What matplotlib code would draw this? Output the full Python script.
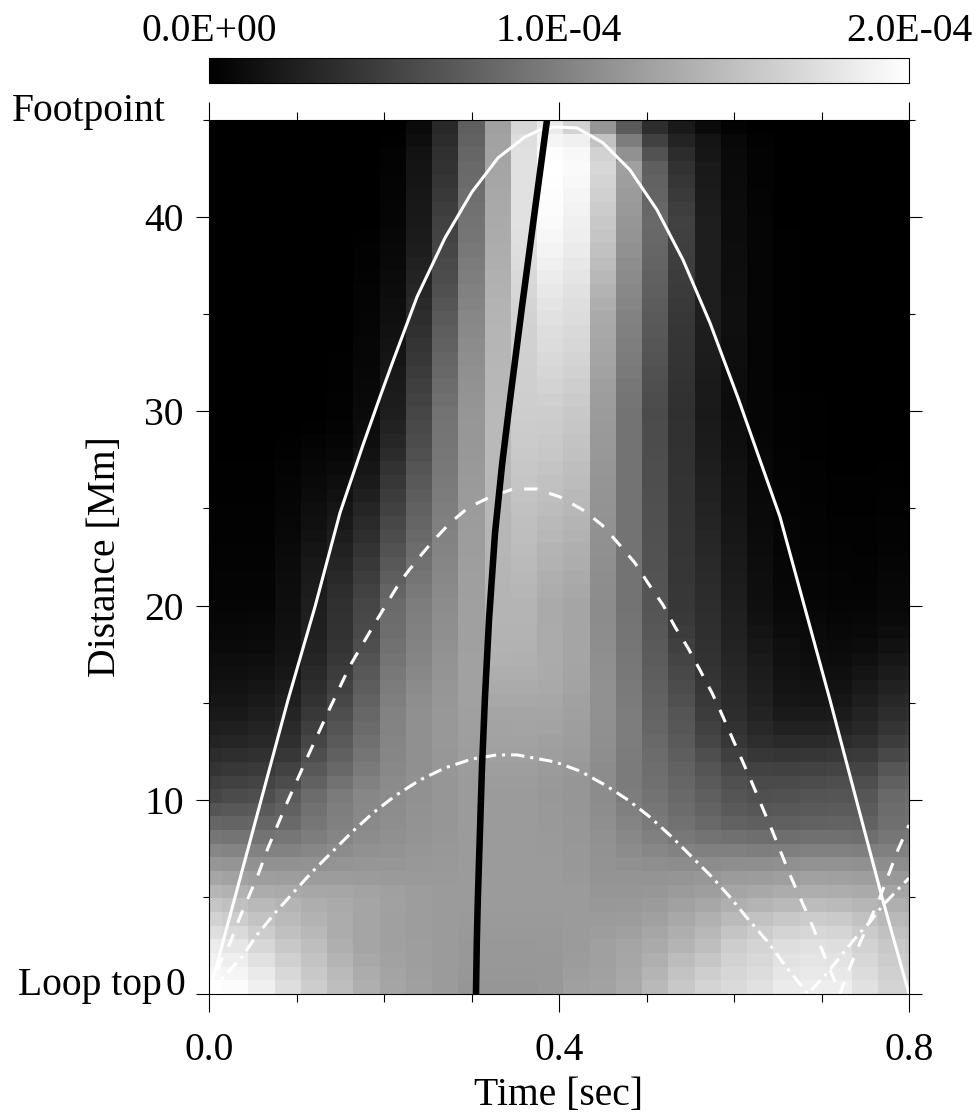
import numpy as np
from matplotlib import pyplot as plt
from matplotlib.ticker import FixedLocator, MultipleLocator

plt.rcParams['font.family'] = ['Liberation Serif', 'DejaVu Serif']
plt.rcParams['font.size'] = 28.5

levels = [
  [255,252,240,222,205,190,175,165,160,155,150,150,150,152,160,162,170,185,200,212,218,225,235,238,238,225,212,210],
  [248,245,234,216,200,186,172,164,159,155,151,151,151,152,158,161,168,180,195,206,214,220,230,233,232,220,208,205],
  [242,238,225,208,195,180,168,162,158,155,152,152,152,152,156,160,166,175,188,198,210,216,226,229,227,215,204,200],
  [235,230,215,200,190,175,165,160,158,155,152,152,152,153,155,160,165,170,180,190,205,212,222,225,222,210,200,195],
  [222,218,205,192,184,172,165,160,157,155,153,153,153,153,155,157,160,166,174,184,196,204,212,215,213,203,193,190],
  [210,205,195,186,178,172,165,160,157,155,154,154,154,154,155,155,156,160,168,176,186,194,200,204,202,194,185,182],
  [197,192,185,180,174,170,165,161,157,155,155,155,155,155,155,152,153,155,161,167,175,180,185,188,186,182,175,172],
  [182,178,172,170,167,166,163,160,157,155,155,155,155,155,155,150,150,151,155,158,165,168,172,174,173,170,165,165],
  [166,162,158,157,156,156,155,154,154,154,155,155,155,155,153,148,148,148,149,151,155,156,159,161,160,158,153,153],
  [150,148,145,145,146,148,150,150,152,153,155,155,155,155,152,147,144,142,140,140,142,142,144,146,146,144,141,141],
  [135,132,130,130,135,140,145,147,150,152,155,155,155,154,152,146,140,135,130,128,128,126,127,129,129,127,128,130],
  [118,116,115,118,125,133,140,144,148,151,155,155,155,154,151,145,136,128,120,115,112,110,110,112,112,110,118,120],
  [102,100,102,105,118,128,137,142,147,150,155,155,155,153,151,143,132,122,113,105,98,95,96,98,99,98,111,114],
  [85,88,90,97,113,126,136,141,146,150,155,155,155,153,150,141,128,118,108,99,90,87,88,90,91,91,108,112],
  [70,75,78,90,108,123,135,140,145,150,155,155,155,152,150,140,125,115,105,95,85,80,81,84,85,86,105,110],
  [62,65,68,76,97,114,129,139,145,150,155,156,156,153,150,140,123,112,102,90,80,74,74,76,78,78,96,100],
  [52,55,58,66,88,104,122,136,144,151,156,158,158,155,152,140,123,110,98,85,72,66,65,66,68,68,86,90],
  [44,46,48,55,78,96,117,134,144,151,157,160,160,158,155,142,124,108,94,78,63,55,53,54,56,58,72,76],
  [36,37,40,47,70,90,112,133,144,152,158,162,162,160,157,143,125,105,90,70,55,46,42,42,44,48,60,64],
  [30,31,35,42,63,84,107,131,144,152,159,163,164,163,158,144,125,102,87,65,50,40,33,33,34,40,52,56],
  [25,25,30,36,56,78,103,130,144,152,160,165,165,165,160,145,125,100,85,60,45,35,26,26,27,35,45,48],
  [21,21,25,31,50,71,98,127,142,151,161,168,168,167,161,145,123,98,80,57,43,32,22,21,22,30,39,42],
  [18,18,21,27,45,65,93,124,139,150,161,171,171,169,163,145,122,96,76,54,41,30,20,18,18,25,33,36],
  [15,15,17,23,41,60,88,120,136,148,161,174,174,170,164,144,120,94,72,52,39,28,18,15,15,20,27,30],
  [13,13,14,20,37,55,83,116,133,147,161,177,176,171,165,143,119,92,68,50,37,26,16,13,12,16,22,24],
  [10,10,11,18,34,52,78,113,131,145,160,178,178,171,165,142,118,90,64,49,35,23,15,11,10,12,17,19],
  [8,8,9,16,32,50,74,110,129,143,160,179,179,171,165,141,117,88,60,47,33,20,12,10,8,9,13,14],
  [6,6,7,15,31,49,72,108,127,142,160,180,180,170,165,140,116,86,57,46,32,17,10,8,6,7,10,10],
  [5,5,5,14,30,48,70,106,125,140,160,180,180,170,165,140,115,85,55,45,30,15,8,6,5,5,8,8],
  [4,4,4,13,28,45,66,100,121,138,159,180,182,173,168,141,115,84,55,44,29,14,7,5,4,4,7,7],
  [4,4,4,12,26,41,61,94,117,136,159,181,184,175,170,142,115,83,54,42,27,14,6,5,4,3,6,6],
  [3,3,3,11,24,37,56,88,113,134,158,181,186,178,173,143,115,82,54,41,26,13,6,4,3,3,5,5],
  [3,3,3,10,21,33,51,82,109,132,157,182,188,180,175,144,115,82,53,39,25,12,5,4,3,2,4,4],
  [2,2,2,8,18,29,46,76,105,130,157,182,190,183,178,145,115,81,53,38,23,11,5,3,2,2,3,3],
  [2,2,2,7,16,25,42,71,101,128,156,183,191,185,180,146,115,80,52,36,22,10,5,3,2,2,3,3],
  [2,2,2,6,14,21,37,65,97,126,155,183,193,188,183,147,115,80,52,35,20,10,4,3,1,1,2,2],
  [1,1,1,5,11,17,31,60,93,124,155,184,195,191,185,148,115,79,51,33,19,9,4,2,1,1,2,2],
  [1,1,1,4,9,14,26,55,89,122,154,184,197,193,188,149,115,78,51,32,18,8,3,2,1,1,1,1],
  [1,1,1,3,7,10,22,50,85,120,153,185,199,196,190,150,115,78,50,30,17,8,3,2,0,0,1,1],
  [0,0,0,2,5,7,18,43,80,119,152,185,201,199,193,152,115,77,50,28,15,7,3,1,0,0,0,0],
  [0,0,0,1,3,5,14,38,76,117,151,185,203,201,195,153,115,76,49,27,14,6,2,1,0,0,0,0],
  [0,0,0,0,1,3,12,34,73,116,151,185,204,203,198,154,115,76,49,26,13,5,2,1,0,0,0,0],
  [0,0,0,0,0,2,10,30,70,115,150,185,205,205,200,155,115,75,48,25,12,5,2,1,0,0,0,0],
  [0,0,0,0,0,2,9,28,66,111,148,184,206,208,203,157,117,77,49,26,12,5,2,1,0,0,0,0],
  [0,0,0,0,0,1,8,26,63,108,146,183,207,211,206,159,119,79,50,26,13,5,1,0,0,0,0,0],
  [0,0,0,0,0,1,7,24,59,104,144,183,207,214,209,162,122,81,51,27,13,5,1,0,0,0,0,0],
  [0,0,0,0,0,1,6,21,55,101,142,182,208,217,212,164,124,84,52,28,14,5,1,0,0,0,0,0],
  [0,0,0,0,0,0,6,19,52,97,140,181,209,220,215,166,126,86,53,29,14,5,1,0,0,0,0,0],
  [0,0,0,0,0,0,5,17,48,94,137,181,209,222,217,168,128,88,54,29,15,5,1,0,0,0,0,0],
  [0,0,0,0,0,0,5,15,45,90,135,180,210,225,220,170,130,90,55,30,15,5,1,0,0,0,0,0],
  [0,0,0,0,0,0,4,14,42,85,132,179,212,228,222,174,133,92,57,30,15,5,1,0,0,0,0,0],
  [0,0,0,0,0,0,4,12,38,80,129,177,215,232,225,179,136,95,59,30,14,5,1,0,0,0,0,0],
  [0,0,0,0,0,0,3,11,35,76,126,176,217,236,229,184,139,97,60,30,14,5,1,0,0,0,0,0],
  [0,0,0,0,0,0,2,9,32,73,123,174,220,240,232,189,142,100,62,30,13,5,1,0,0,0,0,0],
  [0,0,0,0,0,0,2,8,29,70,120,173,222,244,235,193,145,102,63,30,13,5,1,0,0,0,0,0],
  [0,0,0,0,0,0,1,7,27,67,117,171,224,247,238,197,148,104,64,30,12,5,1,0,0,0,0,0],
  [0,0,0,0,0,0,0,5,25,65,115,170,225,250,240,200,150,105,65,30,12,5,0,0,0,0,0,0],
  [0,0,0,0,0,0,0,5,24,61,113,169,225,252,243,204,153,103,62,28,12,4,0,0,0,0,0,0],
  [0,0,0,0,0,0,0,4,23,57,110,168,225,253,245,208,155,100,58,27,11,4,0,0,0,0,0,0],
  [0,0,0,0,0,0,0,4,21,53,107,166,225,254,248,212,158,98,54,26,11,3,0,0,0,0,0,0],
  [0,0,0,0,0,0,0,3,20,50,105,165,225,255,250,215,160,95,50,25,10,3,0,0,0,0,0,0],
  [0,0,0,0,0,0,0,3,18,48,102,163,224,253,248,210,145,82,44,22,9,3,0,0,0,0,0,0],
  [0,0,0,0,0,0,0,1,14,44,98,162,222,245,240,195,125,65,35,20,8,2,0,0,0,0,0,0],
  [0,0,0,0,0,0,0,0,10,40,95,160,215,235,210,150,90,45,25,10,3,0,0,0,0,0,0,0],
]

# cell edges: 0.03 s columns (first and last are cut by the axis), 64 rows over 45 Mm
time_edges = [0.0] + [0.015 + 0.03*i for i in range(27)] + [0.8]
dist_edges = np.linspace(0, 45, 65)

solid_t = [0, .0903, .1211, .1497, .176, .1954, .2091, .2377, .2697, .3006, .3303, .3611, .3783, .3954,
           .4206, .4503, .4811, .512, .5417, .5726, .6046, .6526, .7097, .7691, .8]
solid_d = [0, 15.14, 19.93, 24.77, 28.27, 30.74, 32.44, 35.89, 38.93, 41.30, 43.05, 44.13, 44.49, 44.64,
           44.59, 43.82, 42.43, 40.37, 37.80, 34.55, 30.69, 24.56, 15.14, 4.99, 0]

dash_t = [0, .0126, .024, .0354, .056, .0674, .0891, .112, .1383, .1611, .1897, .2183, .2377, .2549,
          .2754, .296, .3211, .3474, .3749, .4011, .4274, .4491, .4674, .4869, .5017, .5189, .5326, .5474,
          .5611, .5749, .584, .6206, .6434, .664, .6869, .7006, .7211, .7326, .744, .7669, .7874, .8]
dash_d = [0, 1.6, 2.63, 3.97, 6.13, 7.52, 9.84, 12.15, 14.73, 16.9, 19.1, 21.22, 22.35, 23.27,
          24.25, 25.03, 25.59, 26.0, 26.0, 25.59, 24.92, 24.15, 23.22, 22.19, 21.16, 20.03, 18.9, 17.82,
          16.68, 15.5, 14.62, 10.87, 8.44, 6.13, 3.81, 2.27, 0, 1.39, 2.63, 4.99, 7.42, 8.7]

dashdot_t = [0, .0217, .0377, .0549, .0754, .096, .1177, .1406, .1634, .1874, .2126, .2411, .2697, .3006,
             .3291, .352, .3954, .424, .4526, .4789, .504, .5291, .552, .5749, .5954, .616, .6377, .6606,
             .6846, .7074, .7211, .7417, .7554, .7703, .8]
dashdot_d = [0, 1.13, 1.91, 3.04, 4.17, 5.2, 6.28, 7.31, 8.34, 9.32, 10.2, 11.02, 11.64, 12.1,
             12.31, 12.31, 11.95, 11.48, 10.76, 9.99, 9.11, 8.08, 7.05, 6.02, 4.99, 3.86, 2.73, 1.34,
             0, 1.13, 1.91, 3.04, 3.71, 4.58, 5.97]

black_t = [.3051, .3061, .3072, .3097, .312, .3154, .32, .3269, .3349, .344, .3577, .3714, .3863]
black_d = [0, 2.78, 4.84, 8.44, 11.69, 15.29, 19.26, 23.74, 27.24, 30.59, 35.38, 40.01, 45]

cbar_ticks = [0, 1e-4, 2e-4]
cbar_labels = ['0.0E+00', '1.0E-04', '2.0E-04']
y_labels = ['', '10', '20', '30', '40']

W, H = 978, 1112

def px_x(x):
  return x/W

def px_y(y):
  return 1 - y/H

fig = plt.figure(figsize=(W/100, H/100), dpi=100)
ax = fig.add_axes([px_x(209), px_y(994), 700/W, 874/H])

grid = np.array(levels)/255*2e-4
mesh = ax.pcolormesh(time_edges, dist_edges, grid, cmap='gray', vmin=0, vmax=2e-4, linewidth=0, rasterized=True)

ax.plot(solid_t, solid_d, color='white', lw=2.2)
ax.plot(dash_t, dash_d, color='white', lw=2.2, ls=(0, (4.4, 4.0)))
ax.plot(dashdot_t, dashdot_d, color='white', lw=2.2, ls=(0, (4.4, 1.95, 1.0, 1.95)))
ax.plot(black_t, black_d, color='black', lw=4.7)

ax.set_xlim(0, 0.8)
ax.set_ylim(0, 45)
ax.xaxis.set_major_locator(FixedLocator([0, 0.4, 0.8]))
ax.xaxis.set_minor_locator(MultipleLocator(0.1))
ax.yaxis.set_major_locator(FixedLocator([0, 10, 20, 30, 40]))
ax.yaxis.set_minor_locator(MultipleLocator(5))
ax.set_xticklabels(['0.0', '0.4', '0.8'])
ax.set_yticklabels(y_labels)
ax.tick_params(axis='x', which='major', top=True, direction='out', length=13, width=0.8, pad=14)
ax.tick_params(axis='x', which='minor', top=True, direction='out', length=6, width=0.8)
ax.tick_params(axis='y', which='major', right=True, direction='out', length=9.4, width=0.8, pad=8.6)
ax.tick_params(axis='y', which='minor', right=True, direction='out', length=4.5, width=0.8)
for s in ax.spines.values():
  s.set_linewidth(0.8)

cax = fig.add_axes([px_x(209), px_y(83), 700/W, 25/H])
cb = fig.colorbar(mesh, cax=cax, orientation='horizontal', ticks=cbar_ticks)
cb.outline.set_linewidth(0.8)
cax.xaxis.set_ticks_position('top')
cax.set_xticklabels(cbar_labels)
cax.tick_params(length=0, pad=5.5)

fig.text(px_x(559), px_y(1095), 'Time [sec]', ha='center', va='center')
fig.text(px_x(106), px_y(557), 'Distance [Mm]', rotation=90, ha='center', va='center')
fig.text(px_x(166), px_y(120.5), 'Footpoint', ha='right', va='baseline')
fig.text(px_x(162), px_y(995), 'Loop top', ha='right', va='baseline')
fig.text(px_x(185), px_y(995), '0', ha='right', va='baseline')

fig.savefig('out.png', dpi=100)
